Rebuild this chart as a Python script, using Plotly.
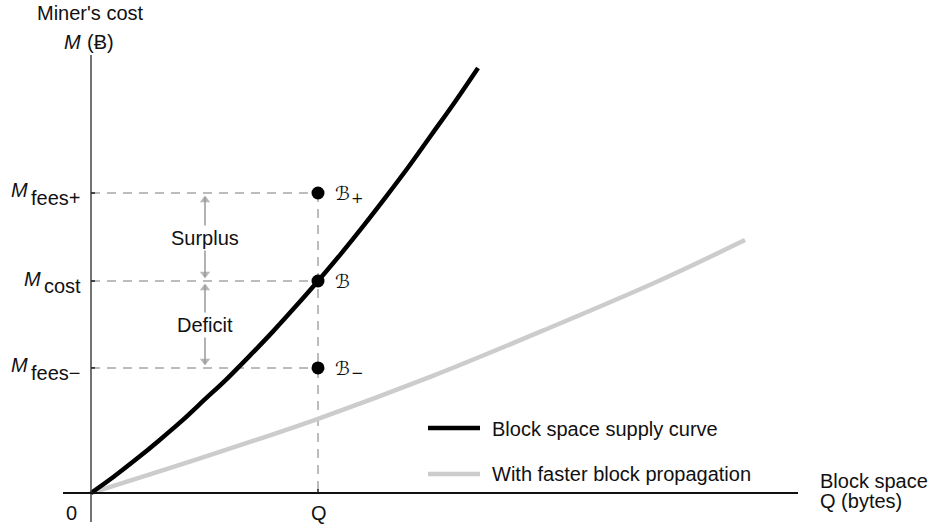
import plotly.graph_objects as go

# ---- data (units: Q = 1, M_cost = 1) ----
supply_q = [0, 0.1, 0.2, 0.3, 0.4, 0.5, 0.6, 0.7, 0.8, 0.9, 1.0, 1.1, 1.2, 1.3, 1.4, 1.5, 1.6, 1.705]
supply_m = [0, 0.077, 0.16, 0.248, 0.34, 0.44, 0.54, 0.648, 0.76, 0.878, 1.0, 1.127, 1.26, 1.398, 1.54, 1.69, 1.84, 2.005]
faster_q = [0, 0.5, 1.0, 1.5, 2.0, 2.5, 2.881]
faster_m = [0, 0.17, 0.35, 0.55, 0.77, 1.0, 1.193]
q_point = 1.0
m_levels = [1.415, 1.0, 0.59]          # M_fees+, M_cost, M_fees-
point_subs = ["+", "", "−"]           # subscripts of the script-B point labels
level_labels = ["fees+", "cost", "fees−"]
legend_names = ["Block space supply curve", "With faster block propagation"]

W, H = 932, 527
OX, OY, UX, UY = 91, 493, 227, 212   # pixel origin and unit size


def X(px):
    return (px - OX) / UX


def Y(py):
    return (OY - py) / UY


def DY(d):
    return d / UY


SANS = "Liberation Sans, Arial, sans-serif"
SERIF = "DejaVu Serif, DejaVu Sans, serif"
FS = 20
BLACK = "#000000"
LGRAY = "#cccccc"
DGRAY = "#a6a6a6"
AGRAY = "#999999"

fig = go.Figure()

# dashed guide lines
for m in m_levels:
    fig.add_trace(go.Scatter(x=[0, q_point], y=[m, m], mode="lines",
                             line=dict(color=DGRAY, width=1.5, dash="9px,7px"),
                             hoverinfo="skip"))
fig.add_trace(go.Scatter(x=[q_point, q_point], y=[m_levels[0], 0], mode="lines",
                         line=dict(color=DGRAY, width=1.5, dash="9px,7px"),
                         hoverinfo="skip"))

# surplus / deficit double arrows (shafts + triangular heads)
ax_q = X(205)
for top, bot in [(m_levels[0], m_levels[1]), (m_levels[1], m_levels[2])]:
    fig.add_trace(go.Scatter(x=[ax_q, ax_q], y=[top - DY(4), bot + DY(4)], mode="lines",
                             line=dict(color=AGRAY, width=1.5), hoverinfo="skip"))
    fig.add_trace(go.Scatter(x=[ax_q, ax_q], y=[top - DY(7), bot + DY(7)], mode="markers",
                             marker=dict(symbol=["triangle-up", "triangle-down"],
                                         color=AGRAY, size=[9, 9],
                                         line=dict(width=0)),
                             hoverinfo="skip"))

# curves
fig.add_trace(go.Scatter(x=faster_q, y=faster_m, mode="lines", name=legend_names[1],
                         line=dict(color=LGRAY, width=4.5, shape="spline")))
fig.add_trace(go.Scatter(x=supply_q, y=supply_m, mode="lines", name=legend_names[0],
                         line=dict(color=BLACK, width=4.5, shape="spline")))

# points
fig.add_trace(go.Scatter(x=[q_point] * 3, y=m_levels, mode="markers",
                         marker=dict(color=BLACK, size=13), hoverinfo="skip"))

shapes = []
# axes
shapes.append(dict(type="line", x0=0, x1=0, y0=Y(522), y1=Y(55),
                   line=dict(color="#444444", width=1.5), layer="above"))
shapes.append(dict(type="line", x0=X(63), x1=X(798), y0=0, y1=0,
                   line=dict(color="#111111", width=2), layer="above"))
# ticks
for m in m_levels:
    shapes.append(dict(type="line", x0=0, x1=X(OX + 4), y0=m, y1=m,
                       line=dict(color="#222222", width=1.5)))
shapes.append(dict(type="line", x0=q_point, x1=q_point, y0=0, y1=Y(OY - 4),
                   line=dict(color="#222222", width=1.5)))
# legend samples
shapes.append(dict(type="line", x0=X(428), x1=X(480), y0=Y(428), y1=Y(428),
                   line=dict(color=BLACK, width=4.5)))
shapes.append(dict(type="line", x0=X(428), x1=X(480), y0=Y(474), y1=Y(474),
                   line=dict(color=LGRAY, width=4.5)))

ann = []


def txt(px, py, text, anchor="center", size=FS, family=SANS, style="normal", **kw):
    ann.append(dict(x=X(px), y=Y(py), xref="x", yref="y", text=text, showarrow=False,
                    xanchor=anchor, yanchor="middle",
                    font=dict(family=family, size=size, color="#111111", style=style), **kw))


txt(205, 238, "Surplus", bgcolor="white")
txt(205, 325, "Deficit", bgcolor="white")

# y-axis level labels
for m, lab in zip(m_levels, level_labels):
    py = OY - m * UY
    if lab == "cost":
        txt(43, py - 2, "M", anchor="right", style="italic")
        txt(42, py + 5, lab, anchor="left")
    else:
        txt(30, py - 3, "M", anchor="right", style="italic")
        txt(29, py + 5, lab, anchor="left")

# point labels (script B with optional subscript)
for m, sub in zip(m_levels, point_subs):
    py = OY - m * UY
    txt(333, py, "ℬ", anchor="left", size=19, family=SERIF)
    if sub:
        txt(349, py + 5, sub, anchor="left", size=15, family=SERIF)

# axis titles
txt(90, 13, "Miner's cost")
txt(83, 42, "M", anchor="right", style="italic")
txt(85, 42, "(Ƀ)", anchor="left")
txt(818, 481, "Block space", anchor="left")
txt(818, 501, "Q (bytes)", anchor="left")
txt(71, 513, "0")
txt(319, 513, "Q")

# legend text
txt(490, 429, legend_names[0], anchor="left")
txt(490, 474, legend_names[1], anchor="left")

fig.update_layout(
    width=W, height=H, margin=dict(l=0, r=0, t=0, b=0, pad=0),
    paper_bgcolor="white", plot_bgcolor="white", showlegend=False,
    xaxis=dict(range=[X(0), X(W)], visible=False, fixedrange=True),
    yaxis=dict(range=[Y(H), Y(0)], visible=False, fixedrange=True),
    shapes=shapes, annotations=ann,
)

fig.write_html("out.html", config={"displayModeBar": False},
               post_script="document.body.style.margin='0';")
